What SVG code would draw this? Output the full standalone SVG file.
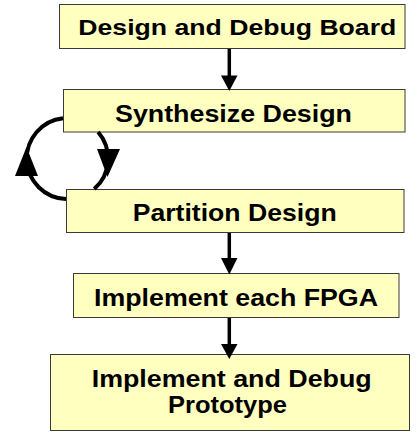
<svg xmlns="http://www.w3.org/2000/svg" width="417" height="432" viewBox="0 0 417 432">
<style>
.box{fill:#ffffc0;stroke:#3a3a3a;stroke-width:1}
.lbl{font-family:"Liberation Sans",Arial,sans-serif;font-weight:bold;fill:#000}
.ln{fill:none;stroke:#000;stroke-width:3.5}
.lp{fill:none;stroke:#000;stroke-width:4}
.hd{fill:#000;stroke:none}
</style>
<rect width="417" height="432" fill="#fff"/>
<g id="n1"><rect class="box" x="59.5" y="4.5" width="345.5" height="44"/><text class="lbl" x="78.3" y="35" font-size="21.5" textLength="318" lengthAdjust="spacingAndGlyphs">Design and Debug Board</text></g>
<g id="n2"><rect class="box" x="63.5" y="89.5" width="341.5" height="42.5"/><text class="lbl" x="115" y="122" font-size="23.5" textLength="237" lengthAdjust="spacingAndGlyphs">Synthesize Design</text></g>
<g id="n3"><rect class="box" x="66.5" y="189.5" width="337.5" height="43"/><text class="lbl" x="132.7" y="220.7" font-size="24" textLength="204" lengthAdjust="spacingAndGlyphs">Partition Design</text></g>
<g id="n4"><rect class="box" x="73.5" y="273.5" width="325.5" height="44"/><text class="lbl" x="94" y="306" font-size="24" textLength="284" lengthAdjust="spacingAndGlyphs">Implement each FPGA</text></g>
<g id="n5"><rect class="box" x="50.5" y="354.5" width="359" height="76"/><text class="lbl" x="91.7" y="386.5" font-size="24" textLength="280" lengthAdjust="spacingAndGlyphs">Implement and Debug</text><text class="lbl" x="168" y="413" font-size="24" textLength="119" lengthAdjust="spacingAndGlyphs">Prototype</text></g>
<g id="connectors">
<line class="ln" x1="229.3" y1="49" x2="229.3" y2="78"/>
<polygon class="hd" points="221,75.5 237.5,75.5 229.3,91"/>
<line class="ln" x1="229.3" y1="233" x2="229.3" y2="260"/>
<polygon class="hd" points="221,258 237.5,258 229.3,274.5"/>
<line class="ln" x1="229.3" y1="318" x2="229.3" y2="346"/>
<polygon class="hd" points="221,344 237.5,344 229.3,359"/>
<path class="lp" d="M63,118.25 A40.5,40.5 0 0 0 66,199"/>
<polygon class="hd" points="15,176 38,176 26.5,147"/>
<path class="lp" d="M98.1,132 A40.5,40.5 0 0 1 94.2,189"/>
<polygon class="hd" points="97,149 120,149 107.5,177"/>
</g>
</svg>
